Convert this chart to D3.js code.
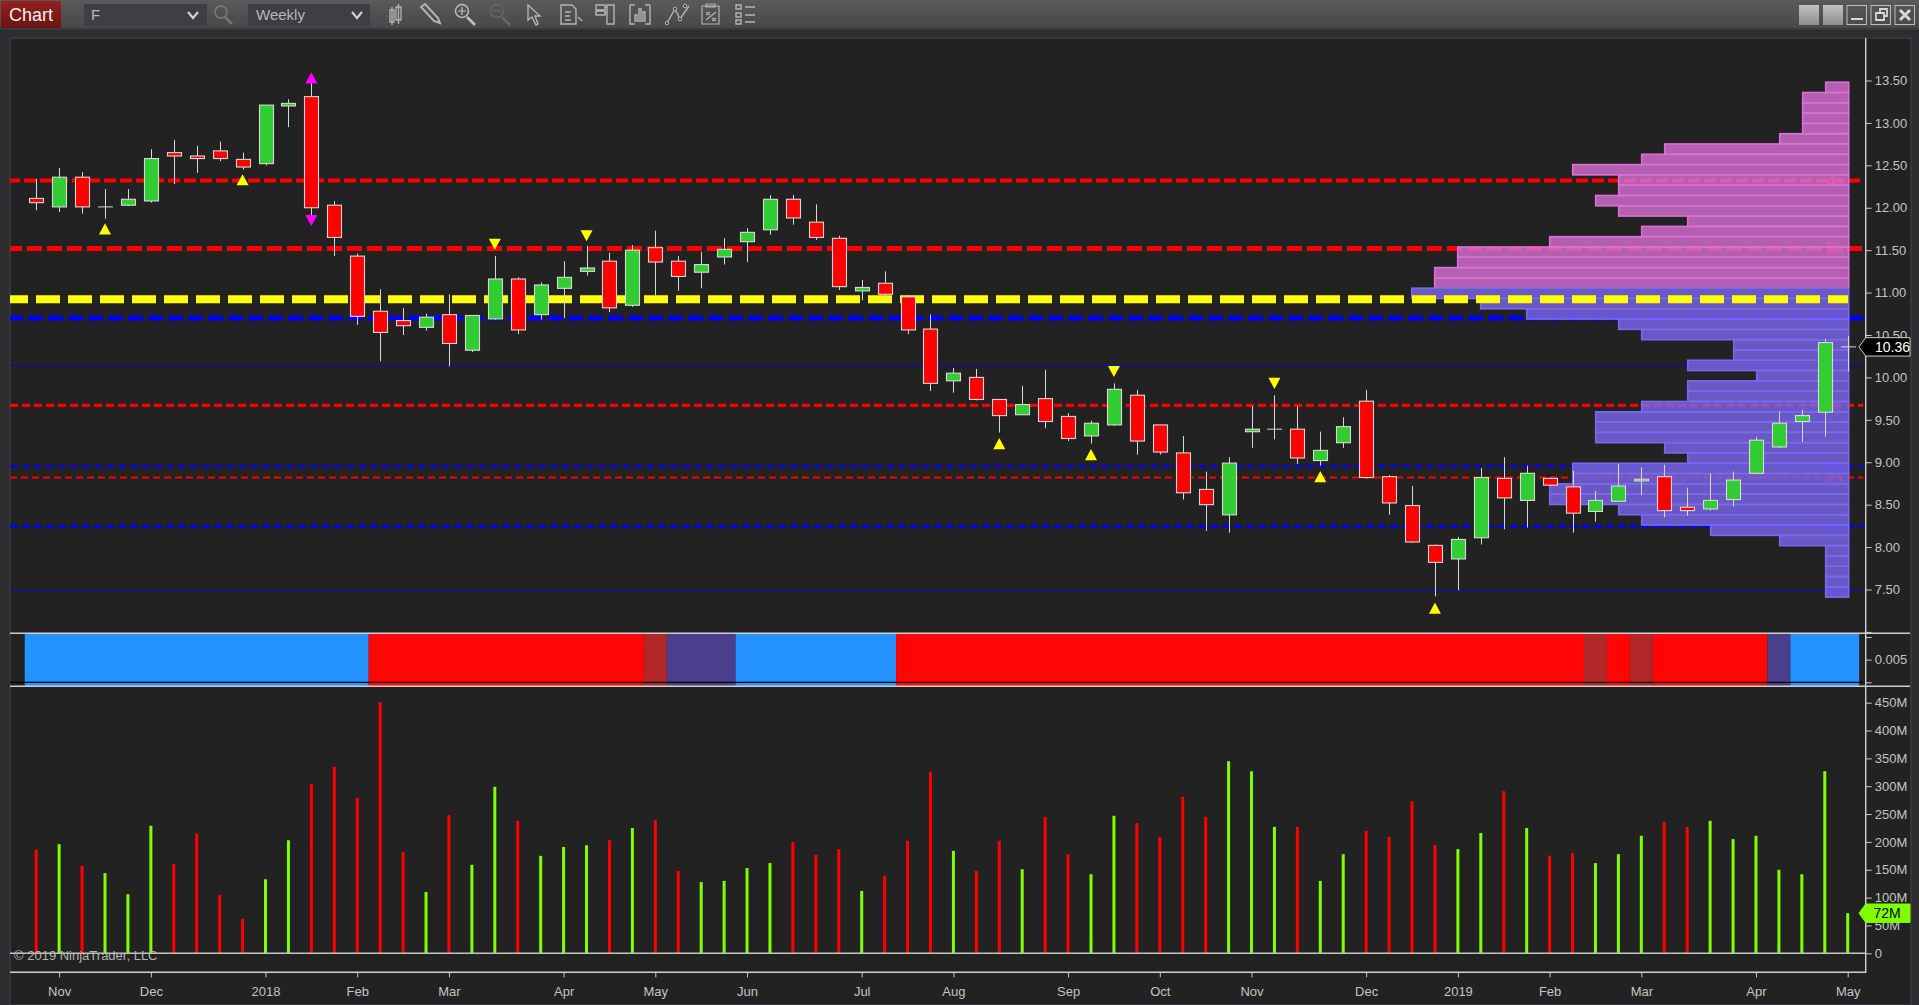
<!DOCTYPE html>
<html>
<head>
<meta charset="utf-8">
<title>F Weekly</title>
<script src="https://cdn.jsdelivr.net/npm/d3@7"></script>
<style>
  html, body { margin: 0; padding: 0; background: #2d2d30; overflow: hidden; }
  svg { display: block; font-family: "Liberation Sans", Arial, sans-serif; }
  .axis text { fill: #c4c4c4; font-size: 13px; font-family: "Liberation Sans", Arial, sans-serif; }
  .axis line { stroke: #c8c8c8; }
  .axis path { display: none; }
</style>
</head>
<body>
<div id="chart"></div>
<script>
// weekly bars
const opens = [12.11,12.01,12.36,12.01,12.03,12.08,12.65,12.61,12.67,12.57,12.52,13.20,13.31,12.03,11.43,10.78,10.67,10.59,10.74,10.32,10.69,11.16,10.74,11.05,11.25,11.37,10.85,11.53,11.37,11.24,11.42,11.60,11.74,12.10,11.83,11.64,11.02,11.11,10.95,10.57,9.96,10.00,9.74,9.56,9.75,9.54,9.31,9.44,9.79,9.44,9.11,8.68,8.38,9.36,9.39,9.39,9.02,9.23,9.72,8.83,8.49,8.02,7.86,8.11,8.81,8.55,8.81,8.71,8.42,8.54,8.78,8.83,8.47,8.45,8.56,8.87,9.18,9.48,9.59,10.36];
const highs = [12.34,12.47,12.42,12.22,12.22,12.69,12.80,12.73,12.78,12.65,13.21,13.28,13.47,12.08,11.46,11.04,10.82,10.75,10.98,10.73,11.43,11.18,11.12,11.37,11.55,11.47,11.56,11.73,11.43,11.48,11.64,11.76,12.15,12.15,12.04,11.67,11.15,11.25,10.97,10.74,10.11,10.10,9.74,9.90,10.09,9.58,9.49,9.93,9.85,9.44,9.31,8.89,9.06,9.66,9.79,9.66,9.36,9.53,9.85,8.85,8.72,8.03,8.12,8.93,9.06,8.96,8.82,8.90,8.66,8.98,8.94,8.97,8.70,8.87,8.89,9.30,9.60,9.62,10.45,10.49];
const lows = [11.97,11.95,11.93,11.87,12.02,12.06,12.28,12.41,12.55,12.45,12.50,12.95,11.89,11.43,10.62,10.19,10.50,10.55,10.13,10.30,10.68,10.51,10.68,10.70,11.20,10.77,10.83,10.97,11.02,11.05,11.33,11.36,11.68,11.80,11.62,11.03,10.91,10.91,10.51,9.84,9.82,9.73,9.35,9.56,9.40,9.25,9.22,9.43,9.09,9.09,8.56,8.19,8.17,9.17,9.27,8.98,8.96,9.17,8.81,8.38,8.05,7.42,7.49,8.03,8.21,8.23,8.72,8.17,8.30,8.54,8.61,8.35,8.37,8.43,8.48,8.87,9.17,9.24,9.30,10.07];
const closes = [12.06,12.36,12.01,12.01,12.10,12.58,12.61,12.58,12.58,12.48,13.21,13.23,12.00,11.65,10.72,10.53,10.61,10.71,10.40,10.73,11.16,10.56,11.09,11.18,11.29,10.82,11.50,11.36,11.19,11.33,11.51,11.71,12.10,11.88,11.65,11.07,11.06,10.98,10.56,9.93,10.05,9.74,9.55,9.68,9.48,9.28,9.46,9.86,9.25,9.12,8.64,8.50,8.99,9.39,9.39,9.05,9.14,9.42,8.82,8.52,8.06,7.82,8.09,8.82,8.58,8.87,8.73,8.40,8.55,8.72,8.80,8.43,8.43,8.55,8.79,9.26,9.46,9.55,10.41,10.36];
// millions of shares
const volumes = [186,196,157,144,106,229,160,215,105,62,133,203,304,335,279,451,182,110,248,159,299,238,175,191,194,203,225,239,148,128,130,153,162,200,177,187,112,139,202,326,184,148,202,151,245,178,142,247,234,209,281,245,345,327,227,227,130,178,220,209,273,194,187,216,291,225,175,180,162,178,211,236,227,238,205,211,150,142,327,72];

const priceTicks = [7,7.5,8,8.5,9,9.5,10,10.5,11,11.5,12,12.5,13,13.5];
const volumeTicks = [0,50,100,150,200,250,300,350,400,450];
const monthBars = [1,5,10,14,18,23,27,31,36,40,45,49,53,58,62,66,70,75,79];
const monthLabels = ["Nov","Dec","2018","Feb","Mar","Apr","May","Jun","Jul","Aug","Sep","Oct","Nov","Dec","2019","Feb","Mar","Apr","May"];

// support / resistance levels
const levelPrices = [12.32,11.52,10.70,10.14,9.67,8.955,8.82,8.245,7.49];
const levelLabels = ["4x","5x","5x","x","x","2x","2x","3x","1x"];
const pocPrice = 10.92;

// volume at price, bars touching each bin, top bin first
const profileCounts = [1,2,2,2,2,3,8,9,12,10,10,11,10,7,9,13,17,17,18,18,19,16,14,10,9,5,5,7,4,7,7,9,11,11,11,8,7,12,12,13,13,10,9,6,3,1,1,1,1,1];
const profileTop = 13.48;
const profileBottom = 7.41;
const profileSplit = 11.05;

// trend indicator runs: state, number of bars
const trendStates = ["up","down","weakDown","weakUp","up","down","weakDown","down","weakDown","down","weakUp","up"];
const trendLengths = [15,12,1,3,7,30,1,1,1,5,1,3];

// signal arrows
const signalBars = [3,9,12,12,20,24,42,46,47,54,56,61];
const signalPrices = [11.75,12.33,13.53,11.85,11.57,11.67,9.22,9.09,10.07,9.93,8.83,7.28];
const signalKinds = ["buy","buy","climaxUp","climaxDown","sell","sell","buy","buy","sell","sell","buy","buy"];

const width = 1919;
const height = 1005;
const chartLeft = 10;
const chartRight = 1911;
const axisX = 1865.7;

const svg = d3.select("#chart").append("svg").attr("width", width).attr("height", height);

const x = d3.scaleLinear().domain([0, 79]).range([36.2, 1847.7]);
const y = d3.scaleLinear().domain([7.5, 13.5]).range([589.5, 80.5]);
const yVol = d3.scaleLinear().domain([0, 450]).range([953.3, 702.7]);
const yInd = d3.scaleLinear().domain([0, 0.01]).range([682.3, 637]);
const profileX = d3.scaleLinear().domain([0, 19]).range([0, 437]);
const snap = (v) => Math.round(v) + 0.5;

drawChrome();

svg.append("rect").attr("x", chartLeft).attr("y", 38).attr("width", chartRight - chartLeft).attr("height", height - 38)
  .attr("fill", "#222222").attr("stroke", "#3b3b44").attr("stroke-width", 1.5);

// indicator panel
const stateColor = { up: "#2492ff", down: "#ff0505", weakDown: "#b22828", weakUp: "#4b3f8d" };
let barStart = 0;
const trendRuns = trendStates.map((s, i) => {
  const run = { state: s, from: barStart, to: barStart + trendLengths[i] };
  barStart = run.to;
  return run;
});

svg.append("g").selectAll("rect").data(trendRuns).join("rect")
  .attr("x", (d) => x(d.from - 0.5))
  .attr("y", 634)
  .attr("width", (d) => x(d.to - 0.5) - x(d.from - 0.5))
  .attr("height", 52)
  .attr("fill", (d) => stateColor[d.state]);

svg.append("line").attr("x1", chartLeft).attr("x2", 1863).attr("y1", yInd(0)).attr("y2", yInd(0))
  .attr("stroke", "#000").attr("stroke-width", 1.2);

[633.3, 686.3].forEach((py) => {
  svg.append("line").attr("x1", chartLeft).attr("x2", chartRight - 1).attr("y1", py).attr("y2", py)
    .attr("stroke", "#cfcfcf").attr("stroke-width", 1.4);
});

// levels sit under the profile
const levelStyles = [
  { color: "#ff0000", w: 4, dash: "12 4", off: 2 },
  { color: "#ff0000", w: 5, dash: "15 5", off: 3 },
  { color: "#0000ff", w: 5, dash: "15 5", off: 2 },
  { color: "#0808d0", w: 1, dash: "none", off: 0 },
  { color: "#ff0000", w: 3.4, dash: "8 4", off: 0 },
  { color: "#0000ff", w: 2.2, dash: "8 4", off: 0 },
  { color: "#ff0000", w: 2.2, dash: "7 4", off: 0 },
  { color: "#0000ff", w: 2.8, dash: "8 4", off: 0 },
  { color: "#0808d0", w: 1, dash: "none", off: 0 },
];

const levels = svg.append("g").selectAll("g").data(levelPrices).join("g");
levels.append("line")
  .attr("x1", chartLeft).attr("x2", 1863)
  .attr("y1", (d) => y(d)).attr("y2", (d) => y(d))
  .attr("stroke", (d, i) => levelStyles[i].color)
  .attr("stroke-width", (d, i) => levelStyles[i].w)
  .attr("stroke-dasharray", (d, i) => levelStyles[i].dash)
  .attr("stroke-dashoffset", (d, i) => levelStyles[i].off);
levels.append("text")
  .attr("x", 1835).attr("y", (d) => y(d) + 6)
  .attr("text-anchor", "middle").attr("font-size", 17)
  .attr("fill", (d, i) => levelStyles[i].color)
  .text((d, i) => levelLabels[i]);

// volume profile
const binHeight = (profileTop - profileBottom) / profileCounts.length;
svg.append("g").selectAll("rect").data(profileCounts).join("rect")
  .attr("x", (d) => 1848.7 - profileX(d))
  .attr("y", (d, i) => y(profileTop - i * binHeight))
  .attr("width", (d) => profileX(d))
  .attr("height", y(0) - y(binHeight))
  .attr("fill", (d, i) => (profileTop - (i + 1) * binHeight >= profileSplit - 0.01 ? "#da70d6" : "#7b68ee"))
  .attr("fill-opacity", 0.8)
  .attr("stroke", (d, i) => (profileTop - (i + 1) * binHeight >= profileSplit - 0.01 ? "#da70d6" : "#7b68ee"))
  .attr("stroke-width", 1.6);

// POC line runs over the profile
svg.append("line")
  .attr("x1", chartLeft).attr("x2", 1848)
  .attr("y1", y(pocPrice)).attr("y2", y(pocPrice))
  .attr("stroke", "#ffff00").attr("stroke-width", 8)
  .attr("stroke-dasharray", "24 8").attr("stroke-dashoffset", 6);

// candles
const bars = d3.range(closes.length);
const candle = svg.append("g").selectAll("g").data(bars).join("g");
candle.append("line")
  .attr("x1", (i) => snap(x(i))).attr("x2", (i) => snap(x(i)))
  .attr("y1", (i) => y(highs[i])).attr("y2", (i) => y(lows[i]))
  .attr("stroke", "#d8d8d8").attr("stroke-width", 1);
candle.filter((i) => opens[i] !== closes[i]).append("rect")
  .attr("x", (i) => snap(x(i)) - 7)
  .attr("y", (i) => y(Math.max(opens[i], closes[i])))
  .attr("width", 14)
  .attr("height", (i) => Math.abs(y(opens[i]) - y(closes[i])))
  .attr("fill", (i) => (closes[i] > opens[i] ? "#32cd32" : "#ff0000"))
  .attr("stroke", "#d8d8d8").attr("stroke-width", 1.1);
candle.filter((i) => opens[i] === closes[i]).append("line")
  .attr("x1", (i) => snap(x(i)) - 7.5).attr("x2", (i) => snap(x(i)) + 7.5)
  .attr("y1", (i) => y(closes[i])).attr("y2", (i) => y(closes[i]))
  .attr("stroke", "#d8d8d8").attr("stroke-width", 1);

// signal arrows
const signalColor = { buy: "#ffff00", sell: "#ffff00", climaxUp: "#ff00ff", climaxDown: "#ff00ff" };
const pointsUp = (k) => k === "buy" || k === "climaxUp";
svg.append("g").selectAll("path").data(signalBars).join("path")
  .attr("d", (b, i) => {
    const cx = x(b);
    const cy = y(signalPrices[i]);
    const dir = pointsUp(signalKinds[i]) ? 1 : -1;
    return `M${cx},${cy - 5.6 * dir}L${cx + 6},${cy + 5.6 * dir}L${cx - 6},${cy + 5.6 * dir}Z`;
  })
  .attr("fill", (b, i) => signalColor[signalKinds[i]]);

// volume
svg.append("g").selectAll("rect").data(bars).join("rect")
  .attr("x", (i) => x(i) - 1.5)
  .attr("y", (i) => yVol(volumes[i]))
  .attr("width", 3)
  .attr("height", (i) => yVol(0) - yVol(volumes[i]))
  .attr("fill", (i) => (closes[i] >= opens[i] ? "#7fff00" : "#ff0000"));

svg.append("line").attr("x1", chartLeft).attr("x2", axisX).attr("y1", yVol(0)).attr("y2", yVol(0))
  .attr("stroke", "#c4c4c4").attr("stroke-width", 1.4);

svg.append("text").attr("x", 14).attr("y", 960).attr("font-size", 13).attr("fill", "#b4b4b4")
  .text("© 2019 NinjaTrader, LLC");

// axes
svg.append("g").attr("class", "axis").attr("transform", `translate(${axisX},0)`)
  .call(d3.axisRight(y).tickValues(priceTicks).tickSize(6).tickPadding(3)
    .tickFormat((d) => (d === 7 ? "" : d3.format(".2f")(d))));

svg.append("g").attr("class", "axis").attr("transform", `translate(${axisX},0)`)
  .call(d3.axisRight(yInd).tickValues([0, 0.005, 0.01]).tickSize(6).tickPadding(3)
    .tickFormat((d) => (d === 0.005 ? "0.005" : "")));

svg.append("g").attr("class", "axis").attr("transform", `translate(${axisX},0)`)
  .call(d3.axisRight(yVol).tickValues(volumeTicks).tickSize(6).tickPadding(3)
    .tickFormat((d) => (d === 0 ? "0" : d + "M")));

svg.append("g").attr("class", "axis").attr("transform", "translate(0,972.3)")
  .call(d3.axisBottom(x).tickValues(monthBars).tickSize(5).tickPadding(9)
    .tickFormat((d) => monthLabels[monthBars.indexOf(d)]));

svg.append("line").attr("x1", chartLeft).attr("x2", axisX + 0.5).attr("y1", 972.3).attr("y2", 972.3)
  .attr("stroke", "#d0d0d0").attr("stroke-width", 1.4);
svg.append("line").attr("x1", axisX).attr("x2", axisX).attr("y1", 38).attr("y2", 972.3)
  .attr("stroke", "#d0d0d0").attr("stroke-width", 1.4);

// last value tags
function valueTag(cy, fill, stroke, textFill, label, anchorX, anchor) {
  const g = svg.append("g");
  g.append("path")
    .attr("d", `M1859,${cy}L${axisX},${cy - 9.2}H1910V${cy + 9.2}H${axisX}Z`)
    .attr("fill", fill).attr("stroke", stroke).attr("stroke-width", 1);
  g.append("text").attr("x", anchorX).attr("y", cy + 5).attr("font-size", 14)
    .attr("text-anchor", anchor).attr("fill", textFill).text(label);
}
valueTag(y(closes[79]), "#000000", "#cfcfcf", "#ffffff", d3.format(".2f")(closes[79]), 1875, "start");
valueTag(yVol(volumes[79]), "#7fff00", "#7fff00", "#000000", volumes[79] + "M", 1887, "middle");

// window chrome around the chart, nothing here comes from the data
function drawChrome() {
  const defs = svg.append("defs");
  const grad = (id, a, b) => {
    const g = defs.append("linearGradient").attr("id", id).attr("x1", 0).attr("x2", 0).attr("y1", 0).attr("y2", 1);
    g.append("stop").attr("offset", 0).attr("stop-color", a);
    g.append("stop").attr("offset", 1).attr("stop-color", b);
  };
  grad("bar", "#5a5a5a", "#474747");
  grad("red", "#96201f", "#6a1414");
  grad("btn", "#c4c2c2", "#8e8c8c");

  svg.append("rect").attr("width", width).attr("height", 29).attr("fill", "url(#bar)");
  svg.append("rect").attr("y", 28).attr("width", width).attr("height", 2).attr("fill", "#3a3a3c");

  svg.append("rect").attr("x", 1).attr("y", 1).attr("width", 60).attr("height", 27).attr("fill", "url(#red)");
  svg.append("text").attr("x", 31).attr("y", 21).attr("text-anchor", "middle").attr("font-size", 18)
    .attr("fill", "#f2f2f2").text("Chart");

  [[84, 123, "F", 91, 193], [248, 122, "Weekly", 256, 357]].forEach(([bx, bw, label, tx, cx]) => {
    svg.append("rect").attr("x", bx).attr("y", 4).attr("width", bw).attr("height", 22).attr("fill", "#3e3e44");
    svg.append("text").attr("x", tx).attr("y", 20).attr("font-size", 15).attr("fill", "#b8b8b8").text(label);
    svg.append("path").attr("d", `M${cx - 5},12L${cx},18L${cx + 5},12`).attr("fill", "none")
      .attr("stroke", "#d0d0d0").attr("stroke-width", 2.2);
  });

  const icon = (d, color, w) => svg.append("path").attr("d", d).attr("fill", "none")
    .attr("stroke", color || "#b4b4b4").attr("stroke-width", w || 1.4);
  const glass = (cx, color, plus) => {
    icon(`M${cx + 4},17L${cx + 12},25`, color, 2.6);
    svg.append("circle").attr("cx", cx - 1).attr("cy", 11).attr("r", 6.5).attr("fill", "none")
      .attr("stroke", color).attr("stroke-width", 1.4);
    if (plus) icon(`M${cx - 5},11H${cx + 3}M${cx - 1},7V15`, color, 1.2);
    else icon(`M${cx - 5},11H${cx + 3}`, color, 1.2);
  };
  svg.append("circle").attr("cx", 221).attr("cy", 12).attr("r", 6).attr("fill", "none").attr("stroke", "#7c7c7c").attr("stroke-width", 1.4);
  icon("M225,17L232,24", "#7c7c7c", 2.4);

  icon("M390,10H394V22H390ZM392,7V25M396,7H401V20H396ZM398.5,4V24", "#b4b4b4", 1.3);
  icon("M421,7L425,4L438,18L440,23L434,21Z", "#b4b4b4", 2);
  glass(463, "#c0c0c0", true);
  glass(498, "#666666", false);
  icon("M528,5L528,20L532,17L536,25L538,24L535,16L540,16Z", "#b4b4b4", 1.4);
  icon("M561,5H572L576,9V24H561ZM565,12H571M565,16H570M565,20H571M578,17L582,21", "#b4b4b4", 1.4);
  icon("M596,5H605V10H596ZM596,11H605V15H596ZM607,5H614V24H607ZM605,7H607M605,13H607", "#b4b4b4", 1.4);
  icon("M630,5H635M630,5V24H635M650,5H645M650,5V24H645M635,22V15H637V22M639,22V9H641V22M643,22V12H645V22", "#b4b4b4", 1.4);
  icon("M667,23L675,9L680,19L689,6", "#b4b4b4", 1.4);
  [[667, 23], [675, 9], [680, 19], [685, 6]].forEach(([a, b]) => svg.append("circle").attr("cx", a).attr("cy", b).attr("r", 1.8)
    .attr("fill", "#484848").attr("stroke", "#b4b4b4"));
  icon("M702,6H719V24H702ZM706,4H715V7H706ZM706,12L710,15M710,12L706,15M712,18L716,21M716,18L712,21M706,20L716,12", "#b4b4b4", 1.2);
  icon("M736,5H741V9H736ZM736,13H741V17H736ZM736,20H741V24H736ZM745,7H755M745,15H755M745,22H755", "#b4b4b4", 1.4);

  [1799, 1823].forEach((bx) => svg.append("rect").attr("x", bx).attr("y", 5).attr("width", 20).attr("height", 20).attr("fill", "url(#btn)"));
  [1847, 1871, 1895].forEach((bx) => svg.append("rect").attr("x", bx).attr("y", 5.5).attr("width", 19.5).attr("height", 19)
    .attr("fill", "none").attr("stroke", "#bdbdbd").attr("stroke-width", 1));
  icon("M1851,19H1863", "#d8d8d8", 2);
  icon("M1878,13H1884V20H1876V13ZM1880,13V9H1887V16H1884", "#d8d8d8", 1.8);
  icon("M1900,10L1910,20M1910,10L1900,20", "#d8d8d8", 3);
}
</script>
</body>
</html>
